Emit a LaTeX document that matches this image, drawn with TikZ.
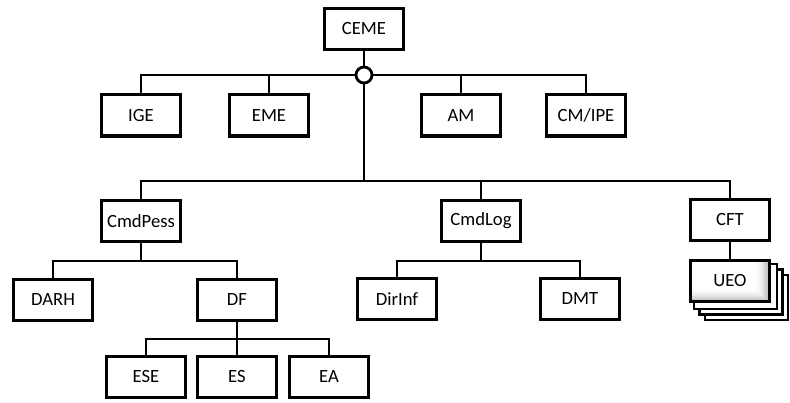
\documentclass[tikz,border=0pt]{standalone}
\usepackage{fontspec}
\setmainfont{Carlito}
\usetikzlibrary{backgrounds}
\begin{document}
\begin{tikzpicture}[x=0.75pt,y=-0.75pt,
  box/.style={draw, line width=2.5pt, minimum width=59.5pt, minimum height=31pt,
    inner sep=0pt, fill=white, font=\fontsize{14}{16}\selectfont},
  link/.style={line width=2.1pt},
  hubstyle/.style={draw, circle, line width=2.1pt, fill=white, minimum size=12pt, inner sep=0pt},
  stackbox/.style={draw, line width=1.9pt, fill=white},
  % inner shadow along the right and bottom edges, built from nested rectangles
  shadedbox/.style={box, path picture={
      \foreach \i in {0,...,14} {
        \pgfmathsetmacro{\tone}{60*(1-\i/14)^2}
        \fill[gray!\tone!white] (path picture bounding box.north west)
          rectangle ([xshift=-0.8*\i pt, yshift=0.7*\i pt]path picture bounding box.south east);
      }}}]
\useasboundingbox (0,0) rectangle (790,403);

% top level
\node[box] (ceme) at (364,29) {CEME};
\node[hubstyle] (hub) at (364,75) {};

% staff units
\node[box] (ige)   at (141,115.5) {IGE};
\node[box] (eme)   at (269,115.5) {EME};
\node[box] (am)    at (461,115.5) {AM};
\node[box] (cmipe) at (586,115.5) {CM/IPE};

% commands
\node[box] (cmdpess) at (141,221) {CmdPess};
\node[box] (cmdlog)  at (481,221) {CmdLog};
\node[box] (cft)     at (730,220) {CFT};

% third level
\node[box] (darh)   at (53,300)  {DARH};
\node[box] (df)     at (237,300) {DF};
\node[box] (dirinf) at (397,299) {DirInf};
\node[box] (dmt)    at (580,299) {DMT};

% fourth level
\node[box] (ese) at (146,377) {ESE};
\node[box] (es)  at (237,377) {ES};
\node[box] (ea)  at (329,377) {EA};

% stacked operational units
\node[shadedbox] (ueo) at (730,281) {UEO};

\begin{scope}[on background layer]
  \fill[white] (0,0) rectangle (790,403);
  \foreach \k in {3,2,1}
    \draw[stackbox] ([shift={(5.5*\k,5.5*\k)}]ueo.north west) rectangle ([shift={(5.5*\k,5.5*\k)}]ueo.south east);
\end{scope}

% junction points of the buses
\coordinate (j2) at (364,181);
\coordinate (jp) at (141,261);
\coordinate (jl) at (481,261);
\coordinate (jd) at (237,339);

\begin{scope}[on background layer]
  \draw[link] (ceme) -- (hub);
  \draw[link] (hub) -| (ige.north);
  \draw[link] (hub) -| (eme.north);
  \draw[link] (hub) -| (am.north);
  \draw[link] (hub) -| (cmipe.north);
  \draw[link] (hub) -- (j2);
  \draw[link] (j2) -| (cmdpess.north);
  \draw[link] (j2) -| (cmdlog.north);
  \draw[link] (j2) -| (cft.north);
  \draw[link] (cmdpess) -- (jp);
  \draw[link] (jp) -| (darh.north);
  \draw[link] (jp) -| (df.north);
  \draw[link] (cmdlog) -- (jl);
  \draw[link] (jl) -| (dirinf.north);
  \draw[link] (jl) -| (dmt.north);
  \draw[link] (df) -- (jd);
  \draw[link] (jd) -| (ese.north);
  \draw[link] (jd) -| (es.north);
  \draw[link] (jd) -| (ea.north);
  \draw[link] (cft) -- (ueo);
\end{scope}
\end{tikzpicture}
\end{document}
